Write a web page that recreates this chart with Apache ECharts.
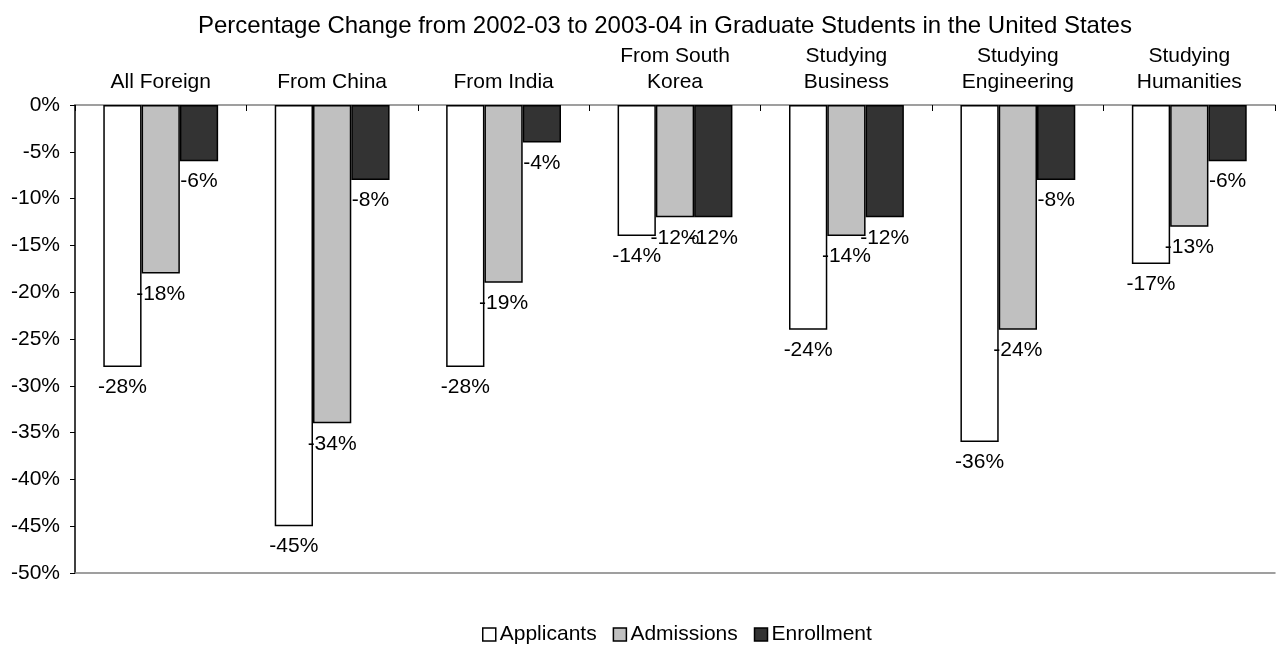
<!DOCTYPE html>
<html>
<head>
<meta charset="utf-8">
<script src="https://cdn.jsdelivr.net/npm/echarts@6/dist/echarts.min.js"></script>
<style>
  html, body { margin: 0; padding: 0; background: #fff; }
  #chart { width: 1276px; height: 647px; }
</style>
</head>
<body>
<div id="chart"></div>
<script>
// Groups shown along the top axis
const categories = [
  'All Foreign',
  'From China',
  'From India',
  'From South\nKorea',
  'Studying\nBusiness',
  'Studying\nEngineering',
  'Studying\nHumanities'
];

// Percentage change, 2002-03 to 2003-04
const applicants  = [-28, -45, -28, -14, -24, -36, -17];
const admissions  = [-18, -34, -19, -12, -14, -24, -13];
const enrollment  = [-6,  -8,  -4,  -12, -12, -8,  -6];

const seriesNames = ['Applicants', 'Admissions', 'Enrollment'];
const seriesColors = ['#ffffff', '#c0c0c0', '#333333'];

const FONT = 'Liberation Sans, Arial, sans-serif';
const FS = 21;

const chart = echarts.init(document.getElementById('chart'));

function barSeries(name, data, color) {
  return {
    name: name,
    type: 'bar',
    data: data,
    barGap: '0%',
    barCategoryGap: '33%',
    itemStyle: { color: color, borderColor: '#000', borderWidth: 1.5 },
    label: {
      show: true,
      position: 'bottom',
      distance: 10,
      formatter: p => p.value + '%',
      color: '#000',
      fontFamily: FONT,
      fontSize: FS
    },
    emphasis: { disabled: true }
  };
}

chart.setOption({
  animation: false,
  backgroundColor: '#fff',
  title: {
    text: 'Percentage Change from 2002-03 to 2003-04 in Graduate Students in the United States',
    left: 193,
    top: 9,
    textStyle: { fontFamily: FONT, fontSize: 24, fontWeight: 'normal', color: '#000' }
  },
  legend: {
    top: 619,
    left: 477,
    icon: 'rect',
    itemWidth: 13,
    itemHeight: 13,
    itemGap: 16,
    textStyle: { fontFamily: FONT, fontSize: FS, color: '#000', padding: [0, 0, 0, -1] },
    data: seriesNames.map((n, i) => ({
      name: n,
      itemStyle: { color: seriesColors[i], borderColor: '#000', borderWidth: 1.5 }
    }))
  },
  grid: { left: 75, right: 1, top: 105, bottom: 74, containLabel: false },
  xAxis: [
    {
      type: 'category',
      position: 'top',
      data: categories,
      axisLine: { show: true, onZero: false, lineStyle: { color: '#808080', width: 1.5 } },
      axisTick: { show: true, inside: true, length: 6, lineStyle: { color: '#000', width: 1 } },
      axisLabel: {
        fontFamily: FONT, fontSize: FS, color: '#000',
        lineHeight: 26, margin: 10, interval: 0, align: 'center'
      }
    },
    {
      type: 'category',
      position: 'bottom',
      data: categories,
      axisLine: { show: true, onZero: false, lineStyle: { color: '#808080', width: 1.5 } },
      axisTick: { show: false },
      axisLabel: { show: false }
    }
  ],
  yAxis: {
    type: 'value',
    min: -50,
    max: 0,
    interval: 5,
    axisLine: { show: true, lineStyle: { color: '#000', width: 1.5 } },
    axisTick: { show: true, length: 5, lineStyle: { color: '#000', width: 1 } },
    splitLine: { show: false },
    axisLabel: {
      formatter: v => v + '%',
      fontFamily: FONT, fontSize: FS, color: '#000', margin: 15
    }
  },
  series: [
    barSeries(seriesNames[0], applicants, seriesColors[0]),
    barSeries(seriesNames[1], admissions, seriesColors[1]),
    barSeries(seriesNames[2], enrollment, seriesColors[2])
  ]
});
</script>
</body>
</html>
